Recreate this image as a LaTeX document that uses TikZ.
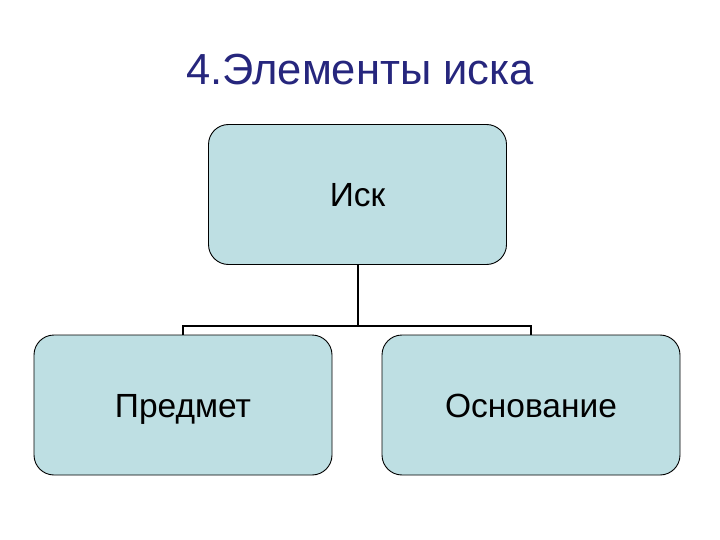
\documentclass[tikz,border=0pt]{standalone}
\usepackage{fontspec}
\setmainfont{Liberation Sans}
\definecolor{boxfill}{RGB}{190,223,227}
\definecolor{titleblue}{RGB}{38,38,125}
\begin{document}
\begin{tikzpicture}[x=1pt,y=-1pt,
  box/.style={draw=black,line width=0.9pt,fill=boxfill,rounded corners=20pt,
    minimum width=298pt,minimum height=140pt,inner sep=0pt,
    font=\fontsize{33.5}{40}\selectfont,text height=24pt,text depth=0pt},
  conn/.style={draw=black,line width=2pt}]
\useasboundingbox (0,0) rectangle (720,540);
\fill[white] (0,0) rectangle (720,540);
\node[anchor=base,text=titleblue,font=\fontsize{43.5}{52}\selectfont] (title) at (360,85) {4.Элементы иска};
\node[box] (isk) at (357.5,194.5) {Иск};
\node[box] (pred) at (183,405) {Предмет};
\node[box] (osn) at (531,405) {Основание};
\coordinate (j) at (357.5,326);
\draw[conn] (isk.south) -- (j);
\draw[conn] (pred.north) -- (pred.north |- j) -- (osn.north |- j) -- (osn.north);
\end{tikzpicture}
\end{document}
